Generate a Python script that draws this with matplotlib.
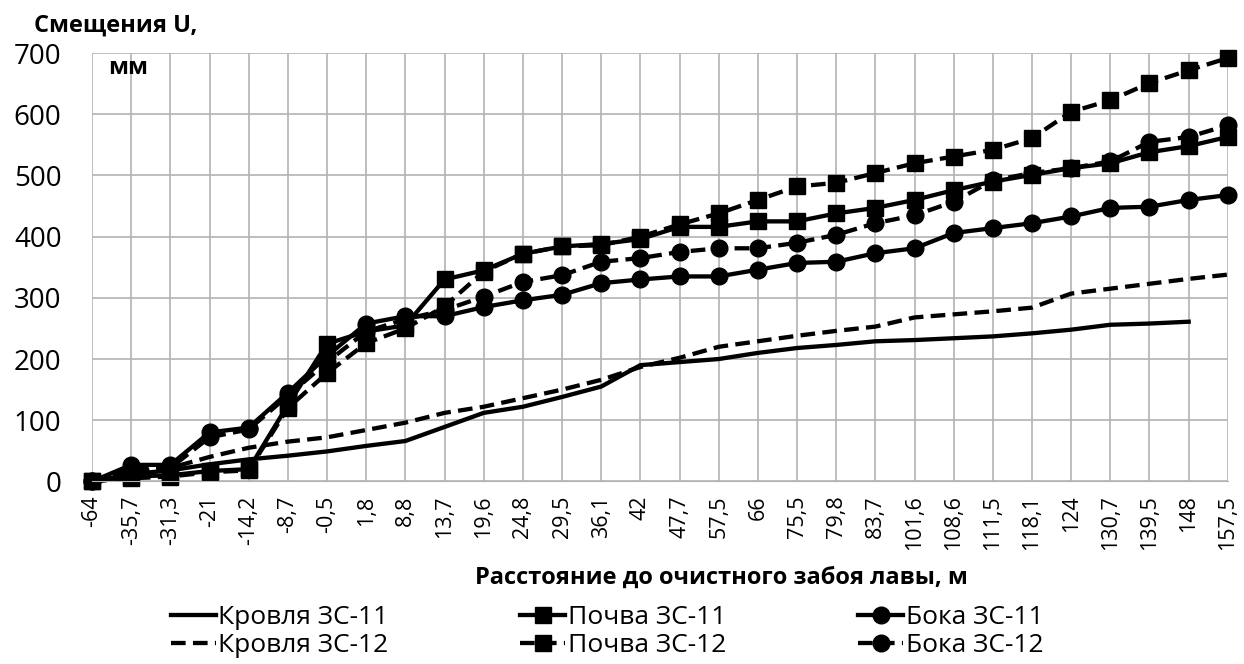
import matplotlib

matplotlib.use("Agg")
import matplotlib.pyplot as plt
import numpy as np

plt.rcParams["font.family"] = ["Open Sans", "DejaVu Sans"]

# distance to the longwall face, m (category axis)
distances = ["-64", "-35,7", "-31,3", "-21", "-14,2", "-8,7", "-0,5", "1,8", "8,8",
             "13,7", "19,6", "24,8", "29,5", "36,1", "42", "47,7", "57,5", "66",
             "75,5", "79,8", "83,7", "101,6", "108,6", "111,5", "118,1", "124",
             "130,7", "139,5", "148", "157,5"]

# displacements U, mm
roof_11 = [0, 12, 18, 28, 36, 42, 49, 58, 66, 89, 112, 122, 138, 155, 190, 195,
           200, 210, 218, 223, 229, 231, 234, 237, 242, 248, 256, 258, 261, np.nan]
roof_12 = [0, 15, 22, 40, 55, 65, 72, 84, 96, 112, 122, 136, 150, 166, 187, 202,
           220, 229, 238, 246, 253, 268, 273, 278, 284, 307, 315, 323, 331, 338]
floor_11 = [0, 8, 10, 17, 20, 125, 225, 245, 255, 330, 345, 372, 384, 388, 396, 416,
            416, 425, 425, 438, 447, 460, 476, 490, 501, 512, 520, 538, 548, 563]
floor_12 = [0, 5, 8, 15, 18, 120, 177, 226, 250, 286, 343, 372, 384, 386, 400, 420,
            438, 460, 482, 488, 504, 520, 531, 542, 561, 604, 623, 651, 672, 692]
sides_11 = [0, 27, 27, 80, 88, 145, 205, 258, 270, 270, 285, 296, 305, 324, 330, 335,
            335, 346, 357, 359, 373, 381, 406, 414, 422, 433, 447, 449, 460, 468]
sides_12 = [0, 20, 22, 72, 85, 140, 195, 245, 265, 280, 302, 326, 337, 359, 365, 375,
            381, 381, 390, 403, 422, 435, 457, 492, 504, 512, 523, 555, 563, 582]

x = np.arange(len(distances))
DASH = (0, (3.4, 1.7))

fig = plt.figure(figsize=(12.44, 6.64), dpi=100)
ax = fig.add_axes([0.074, 0.275, 0.913, 0.645])

lw = 3.1
ms = 12
h_k11, = ax.plot(x, roof_11, color="black", lw=lw, label="Кровля ЗС-11")
h_k12, = ax.plot(x, roof_12, color="black", lw=lw, linestyle=DASH, label="Кровля ЗС-12")
h_p11, = ax.plot(x, floor_11, color="black", lw=lw, marker="s", ms=ms,
                 label="Почва ЗС-11", clip_on=False)
h_p12, = ax.plot(x, floor_12, color="black", lw=lw, linestyle=DASH, marker="s", ms=ms,
                 label="Почва ЗС-12", clip_on=False)
h_b11, = ax.plot(x, sides_11, color="black", lw=lw, marker="o", ms=ms,
                 label="Бока ЗС-11", clip_on=False)
h_b12, = ax.plot(x, sides_12, color="black", lw=lw, linestyle=DASH, marker="o", ms=ms,
                 label="Бока ЗС-12", clip_on=False)

ax.set_xlim(0, len(distances) - 1)
ax.set_ylim(0, 700)
ax.set_yticks(range(0, 701, 100))
ax.set_xticks(x)
ax.set_xticklabels(distances, rotation=90, fontsize=15.5)
ax.tick_params(axis="y", labelsize=20, length=0, pad=22)
ax.tick_params(axis="x", length=0, pad=10)
ax.grid(True, color="#b3b3b3", linewidth=1.2)
ax.set_axisbelow(True)
for side in ("top", "right", "left"):
    ax.spines[side].set_visible(False)
ax.spines["bottom"].set_color("#b3b3b3")

# axis titles placed like in the source spreadsheet chart
fig.text(0.027, 0.962, "Смещения U,", fontsize=17, fontweight="bold", va="center")
fig.text(0.087, 0.897, "мм", fontsize=17, fontweight="bold", va="center")
fig.text(0.58, 0.13, "Расстояние до очистного забоя лавы, м", fontsize=17,
         fontweight="bold", ha="center", va="center")

fig.legend(handles=[h_k11, h_k12, h_p11, h_p12, h_b11, h_b12], ncol=3,
           loc="lower center", bbox_to_anchor=(0.488, -0.015), frameon=False,
           fontsize=19, handlelength=1.7, handletextpad=0.1, columnspacing=5.0,
           labelspacing=0.1, borderaxespad=0.2)

fig.savefig("out.png", dpi=100)
plt.close(fig)
